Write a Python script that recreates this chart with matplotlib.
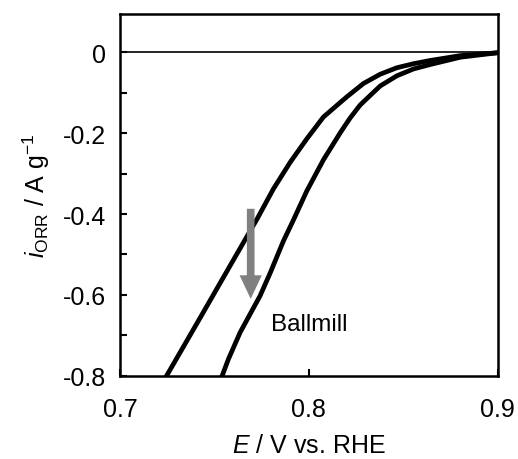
import matplotlib
matplotlib.use("Agg")
import matplotlib.pyplot as plt
from matplotlib.ticker import FixedLocator

plt.rcParams['font.family'] = ['Liberation Sans', 'DejaVu Sans']
plt.rcParams['mathtext.fontset'] = 'custom'
plt.rcParams['mathtext.rm'] = 'Liberation Sans'
plt.rcParams['mathtext.it'] = 'Liberation Sans:italic'

# Curve 1 (outer / left)
E1 = [0.7247, 0.7424, 0.7600, 0.7726, 0.7812, 0.7901, 0.7989, 0.8077, 0.8166,
      0.8201, 0.8289, 0.8378, 0.8466, 0.8554, 0.8643, 0.8802, 0.8997]
i1 = [-0.800, -0.657, -0.514, -0.412, -0.338, -0.272, -0.214, -0.160, -0.124,
      -0.110, -0.077, -0.054, -0.038, -0.028, -0.020, -0.008, -0.001]
# Curve 2 (inner / right)
E2 = [0.7541, 0.7574, 0.7636, 0.7742, 0.7795, 0.7865, 0.7918, 0.7989, 0.8077,
      0.8166, 0.8219, 0.8272, 0.8378, 0.8466, 0.8554, 0.8643, 0.8802, 0.8997]
i2 = [-0.800, -0.759, -0.693, -0.602, -0.546, -0.467, -0.415, -0.343, -0.266,
      -0.199, -0.162, -0.130, -0.083, -0.058, -0.041, -0.030, -0.012, -0.001]

x_ticks = [0.7, 0.8, 0.9]
x_ticklabels = ['0.7', '0.8', '0.9']
y_ticks = [0, -0.2, -0.4, -0.6, -0.8]
y_ticklabels = ['0', '-0.2', '-0.4', '-0.6', '-0.8']

fig = plt.figure(figsize=(5.18, 4.6), dpi=100)
ax = fig.add_axes([0.2317, 0.1811, 0.7291, 0.7863])

ax.axhline(0, color='black', lw=1.2, zorder=1)
ax.plot(E1, i1, color='black', lw=3.4, solid_joinstyle='round', zorder=3)
ax.plot(E2, i2, color='black', lw=3.4, solid_joinstyle='round', zorder=3)

ax.annotate('', xy=(0.7692, -0.610), xytext=(0.7692, -0.387),
            arrowprops=dict(arrowstyle='simple,head_length=17,head_width=16,tail_width=5.5',
                            mutation_scale=1, color='#808080', shrinkA=0, shrinkB=0, lw=0),
            zorder=4)
ax.text(0.7800, -0.672, 'Ballmill', fontsize=17.5, ha='left', va='center')

ax.set_xlim(0.7, 0.9)
ax.set_ylim(-0.8, 0.095)
ax.set_xticks(x_ticks)
ax.set_xticklabels(x_ticklabels)
ax.set_yticks(y_ticks)
ax.set_yticklabels(y_ticklabels)
ax.yaxis.set_minor_locator(FixedLocator([-0.1, -0.3, -0.5, -0.7]))

ax.tick_params(axis='both', which='both', direction='in', length=5, width=1.5,
               labelsize=18, top=False, right=False)
ax.tick_params(axis='y', pad=10)
ax.tick_params(axis='x', pad=15)

for s in ax.spines.values():
    s.set_linewidth(1.8)

ax.set_xlabel(r'$\mathit{E}$ / V vs. RHE', fontsize=18, labelpad=9)
ax.set_ylabel(r'$\mathit{i}_{\mathrm{ORR}}$ / A g$^{-1}$', fontsize=18, labelpad=8)

fig.savefig('out.png', dpi=100)
